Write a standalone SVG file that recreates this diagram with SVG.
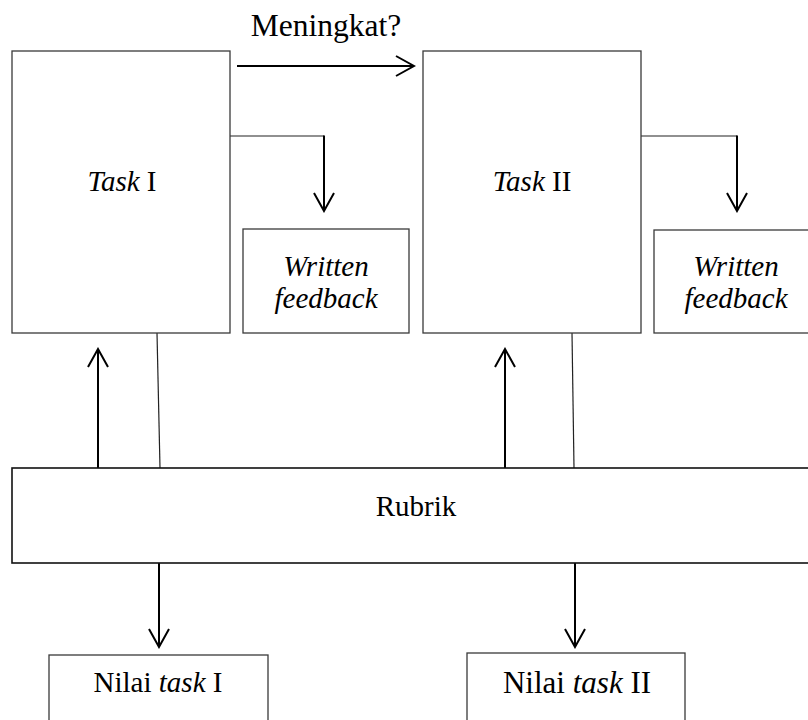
<svg xmlns="http://www.w3.org/2000/svg" width="808" height="720" viewBox="0 0 808 720">
<defs>
<style>
.box{fill:#fff;stroke:#3a3a3a;stroke-width:1.3}
.t{font-family:"Liberation Serif","Times New Roman",serif;font-size:29px;fill:#000;text-anchor:middle}
.i{font-style:italic}
.arr{stroke:#000;stroke-width:2;fill:none;marker-end:url(#ah)}
.thin{stroke:#222;stroke-width:1.2;fill:none}
</style>
<marker id="ah" markerUnits="userSpaceOnUse" viewBox="-20 -12 22 24" markerWidth="22" markerHeight="24" refX="0" refY="0" orient="auto">
<path d="M-18,-10 L0,0 L-18,10" fill="none" stroke="#000" stroke-width="2"/>
</marker>
</defs>
<rect width="808" height="720" fill="#fff"/>
<g id="connectors">
<line class="arr" x1="237" y1="66" x2="414" y2="66"/>
<polyline class="thin" points="230,136 324,136"/>
<line class="arr" x1="324" y1="135.5" x2="324" y2="211"/>
<polyline class="thin" points="641,136 737,136"/>
<line class="arr" x1="737" y1="135.5" x2="737" y2="211"/>
<line class="arr" x1="98" y1="468" x2="98" y2="349"/>
<line class="arr" x1="505" y1="468" x2="505" y2="349"/>
<line class="thin" x1="157" y1="333" x2="160" y2="468"/>
<line class="thin" x1="572" y1="333" x2="574" y2="468"/>
<line class="arr" x1="159" y1="563" x2="159" y2="647"/>
<line class="arr" x1="575" y1="563" x2="575" y2="647"/>
</g>
<text class="t" x="326" y="36" style="font-size:31.5px">Meningkat?</text>
<g id="task1">
<rect class="box" x="12" y="51" width="218" height="282"/>
<text class="t" x="122" y="191"><tspan class="i">Task</tspan> I</text>
</g>
<g id="task2">
<rect class="box" x="423" y="51" width="218" height="282"/>
<text class="t" x="532" y="191"><tspan class="i">Task</tspan> II</text>
</g>
<g id="feedback1">
<rect class="box" x="243" y="229" width="166" height="104"/>
<text class="t i" x="326" y="276">Written</text>
<text class="t i" x="326" y="308">feedback</text>
</g>
<g id="feedback2">
<rect class="box" x="654" y="230" width="170" height="103"/>
<text class="t i" x="736" y="276">Written</text>
<text class="t i" x="736" y="308">feedback</text>
</g>
<g id="rubrik">
<rect x="12" y="468" width="820" height="95" fill="#fff" stroke="#111" stroke-width="1.6"/>
<text class="t" x="416" y="516">Rubrik</text>
</g>
<g id="nilai1">
<rect class="box" x="49" y="655" width="219" height="80"/>
<text class="t" x="158" y="692">Nilai <tspan class="i">task</tspan> I</text>
</g>
<g id="nilai2">
<rect class="box" x="467" y="653" width="218" height="82"/>
<text class="t" x="577" y="693" style="font-size:31px">Nilai <tspan class="i">task</tspan> II</text>
</g>
</svg>
